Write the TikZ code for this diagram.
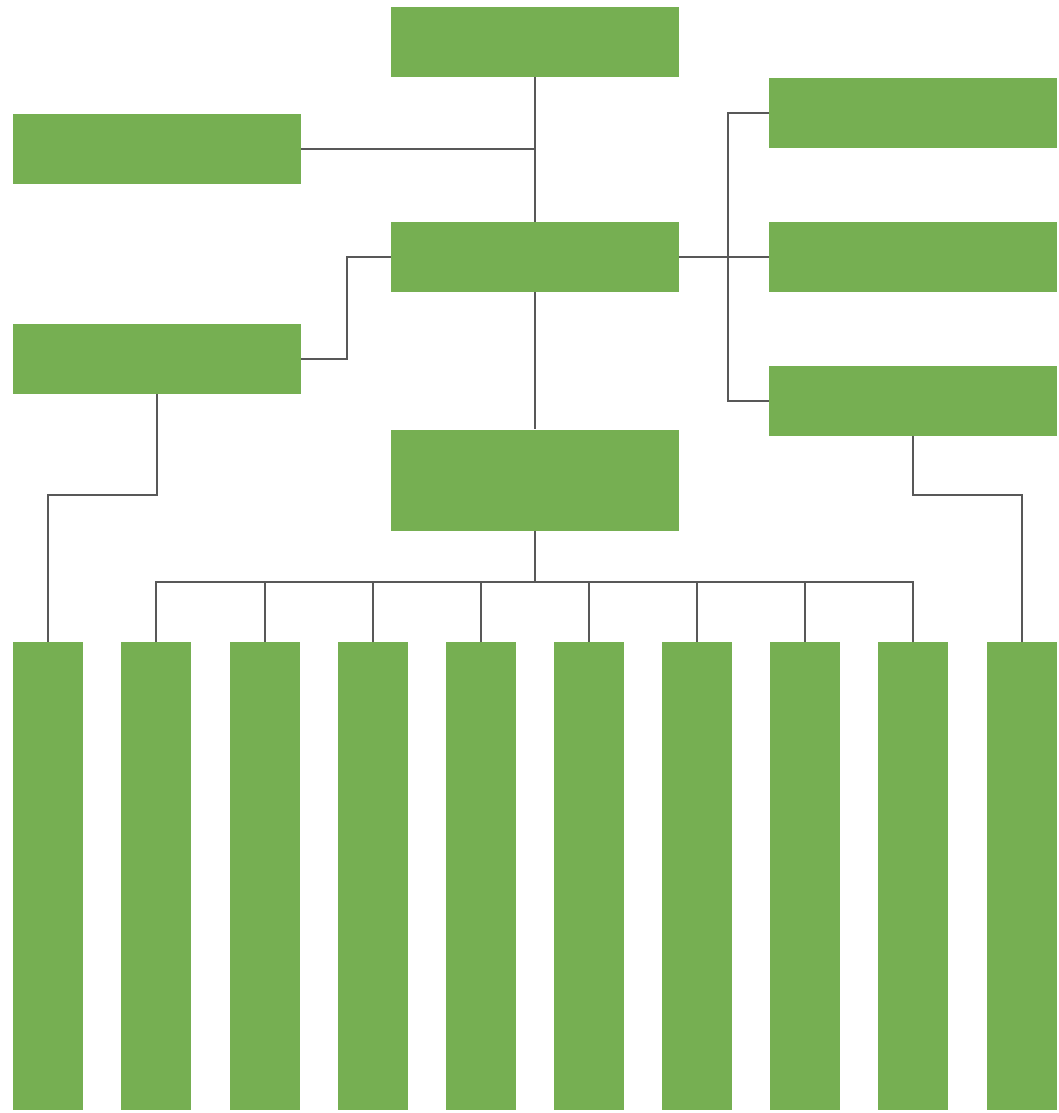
\documentclass[tikz,border=0pt]{standalone}
\usepackage{xcolor}
\usetikzlibrary{positioning, calc}
\definecolor{leaf}{RGB}{118,175,82}
\definecolor{wire}{RGB}{88,88,88}

\begin{document}
\begin{tikzpicture}[
  x=1pt, y=-1pt,
  box/.style={rectangle, fill=leaf, inner sep=0pt,
              minimum width=288pt, minimum height=70pt},
  col/.style={rectangle, fill=leaf, inner sep=0pt,
              minimum width=70pt, minimum height=468pt},
  link/.style={draw=wire, line width=1.3pt}
]
\useasboundingbox (0,0) rectangle (1059,1113);

% upper boxes
\node[box] (top)    at (535,42)  {};
\node[box] (left1)  at (157,149) {};
\node[box] (mid)    at (535,257) {};
\node[box] (left2)  at (157,359) {};
\node[box] (right1) at (913,113) {};
\node[box] (right2) at (913,257) {};
\node[box] (right3) at (913,401) {};
\node[box, minimum height=101pt] (lower) at (535,480) {};

% bottom columns
\foreach \x [count=\i] in {48,156,265,373,481,589,697,805,913,1022}
  \node[col] (col\i) at (\x,876) {};

\coordinate (jl)  at (347,257);
\coordinate (jr)  at (728,257);
\coordinate (bus) at (535,582);

\draw[link] (top) -- (mid);
\draw[link] (left1.east) -- (left1.east -| top);
\draw[link] (mid.west) -- (jl) |- (left2.east);
\draw[link] (mid.east) -- (right2.west);
\draw[link] (right1.west) -| (jr) |- (right3.west);
\draw[link] (mid) -- (lower);
\draw[link] (lower) -- (bus);
\foreach \i in {2,...,9}
  \draw[link] (col\i.north) |- (bus);
\draw[link] (left2.south) -- (left2.south |- 0,495) -| (col1.north);
\draw[link] (right3.south) -- (right3.south |- 0,495) -| (col10.north);
\end{tikzpicture}
\end{document}
